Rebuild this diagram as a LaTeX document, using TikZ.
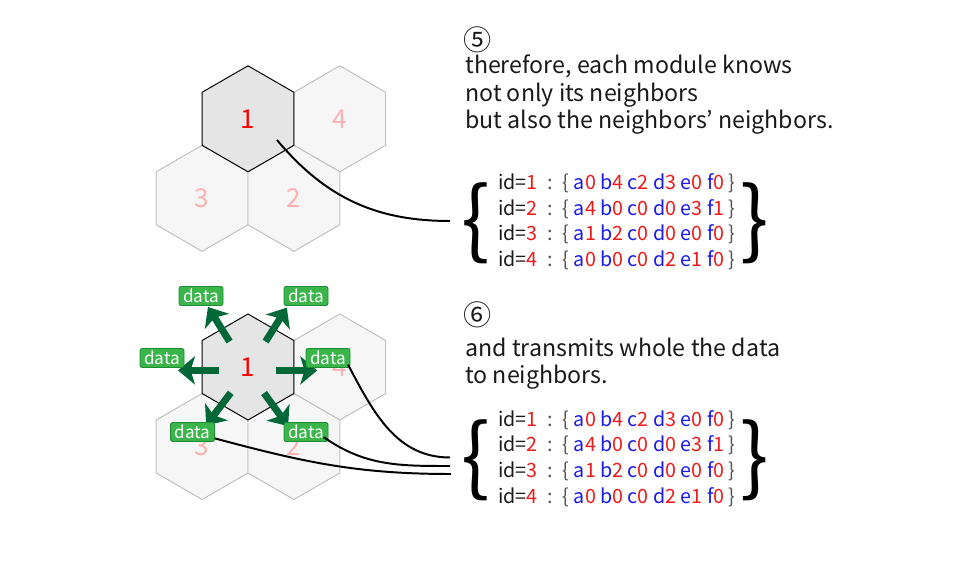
\documentclass[tikz,border=0pt]{standalone}
\usepackage{fontspec}
\setmainfont{Noto Sans CJK JP}
\usetikzlibrary{shapes.geometric,arrows.meta}

\definecolor{ink}{RGB}{26,26,26}
\definecolor{hexline}{RGB}{192,192,192}
\definecolor{hexfill}{RGB}{246,246,246}
\definecolor{hexhi}{RGB}{229,229,229}
\definecolor{idpink}{RGB}{255,176,176}
\definecolor{idred}{RGB}{255,0,0}
\definecolor{keyblue}{RGB}{25,25,240}
\definecolor{valred}{RGB}{240,25,25}
\definecolor{braces}{RGB}{80,80,80}
\definecolor{datafill}{RGB}{57,181,74}
\definecolor{dataline}{RGB}{30,140,50}
\definecolor{pushcol}{RGB}{0,104,55}

% one key/value pair of the table
\newcommand{\kv}[2]{\textcolor{keyblue}{#1}\textcolor{valred}{#2}}
% one row: id, then the values of a..f
\newcommand{\idrow}[7]{\textcolor{ink}{id=}\textcolor{valred}{#1}\enspace\textcolor{braces}{:}\enspace\textcolor{braces}{\{}
  \kv{a}{#2} \kv{b}{#3} \kv{c}{#4} \kv{d}{#5} \kv{e}{#6} \kv{f}{#7} \textcolor{braces}{\}}}

\tikzset{
  hexcell/.style={regular polygon, regular polygon sides=6, shape border rotate=30,
    minimum size=2.65cm, inner sep=0pt, draw=hexline, fill=hexfill, line width=0.7pt,
    text=idpink, font=\fontsize{18.5}{20}\selectfont},
  hexmain/.style={hexcell, draw=black, fill=hexhi, text=idred},
  databox/.style={fill=datafill, draw=dataline, line width=0.6pt, rounded corners=1.5pt,
    text=white, minimum width=1.1cm, minimum height=0.475cm, inner sep=0pt,
    font=\fontsize{12.2}{13}\selectfont},
  push/.style={draw=pushcol, line width=5pt, -{Stealth[length=12pt,width=20pt,inset=3pt]}},
  link/.style={line width=1.4pt},
  para/.style={align=left, anchor=base west, inner sep=0pt, text=ink,
    font=\fontsize{16.5}{19.4}\selectfont},
  stepno/.style={inner sep=0pt, text=ink, font=\fontsize{20}{20}\selectfont},
  table/.style={align=left, anchor=base west, inner sep=0pt,
    font=\fontsize{14}{18.3}\selectfont},
  bigbrace/.style={inner sep=0pt, text=black, font=\fontsize{60}{60}\selectfont}
}

\begin{document}
\begin{tikzpicture}
  \useasboundingbox (0,0) rectangle (24,14);

  % step 5
  \node[hexcell] (t4) at (8.495,11.03) {4};
  \node[hexcell] (t3) at (5.0525,9.0425) {3};
  \node[hexcell] (t2) at (7.3475,9.0425) {2};
  \node[hexmain] (t1) at (6.2,11.03) {1};

  \node[stepno] (n5) at (11.95,13.0) {⑤};
  \node[para] (txt5) at (11.625,10.7925) {therefore, each module knows\\not only its neighbors\\but also the neighbors’ neighbors.};

  \node[bigbrace] (lb5) at (11.9,8.425) {\{};
  \node[bigbrace] (rb5) at (18.875,8.425) {\}};
  \node[table] (tab5) at (12.45,7.3325) {\idrow{1}{0}{4}{2}{3}{0}{0}\\\idrow{2}{4}{0}{0}{0}{3}{1}\\
    \idrow{3}{1}{2}{0}{0}{0}{0}\\\idrow{4}{0}{0}{0}{2}{1}{0}};

  \coordinate (src5) at (6.925,10.5);
  \coordinate (dst5) at (11.25,8.475);
  \draw[link] (src5) to[out=-50,in=180] (dst5);

  % step 6
  \node[hexcell] (b4) at (8.495,4.825) {4};
  \node[hexcell] (b3) at (5.0525,2.8375) {3};
  \node[hexcell] (b2) at (7.3475,2.8375) {2};
  \node[hexmain] (b1) at (6.2,4.825) {1};

  \coordinate (hub) at (6.19,4.74);
  \foreach \ang/\from/\to in {180/0.72/1.74, 0/0.72/1.74, 122/0.85/1.87, 58/0.85/1.85, 233/0.7/1.72, 306/0.7/1.72}
    \draw[push] ([shift={(\ang:\from)}]hub) -- ([shift={(\ang:\to)}]hub);

  \node[databox] (dUL) at (5.025,6.6) {data};
  \node[databox] (dUR) at (7.65,6.6) {data};
  \node[databox] (dL) at (4.05,5.05) {data};
  \node[databox] (dR) at (8.2,5.05) {data};
  \node[databox] (dDL) at (4.8125,3.2) {data};
  \node[databox] (dDR) at (7.65,3.2) {data};

  \node[stepno] (n6) at (11.95,6.125) {⑥};
  \node[para] (txt6) at (11.625,4.4175) {and transmits whole the data\\to neighbors.};

  \node[bigbrace] (lb6) at (11.9,2.4875) {\{};
  \node[bigbrace] (rb6) at (18.875,2.4875) {\}};
  \node[table] (tab6) at (12.45,1.4175) {\idrow{1}{0}{4}{2}{3}{0}{0}\\\idrow{2}{4}{0}{0}{0}{3}{1}\\
    \idrow{3}{1}{2}{0}{0}{0}{0}\\\idrow{4}{0}{0}{0}{2}{1}{0}};

  \coordinate (dst6a) at (11.25,2.5625);
  \coordinate (dst6b) at (11.25,2.35);
  \coordinate (dst6c) at (11.275,2.15);
  \draw[link] ([shift={(-0.06,0.08)}]dR.south east) to[out=-62,in=180] (dst6a);
  \draw[link] ([shift={(-0.12,0.12)}]dDR.south east) to[out=-35,in=180] (dst6b);
  \draw[link] ([shift={(0,-0.16)}]dDL.east) to[out=-15,in=180] (dst6c);
\end{tikzpicture}
\end{document}
